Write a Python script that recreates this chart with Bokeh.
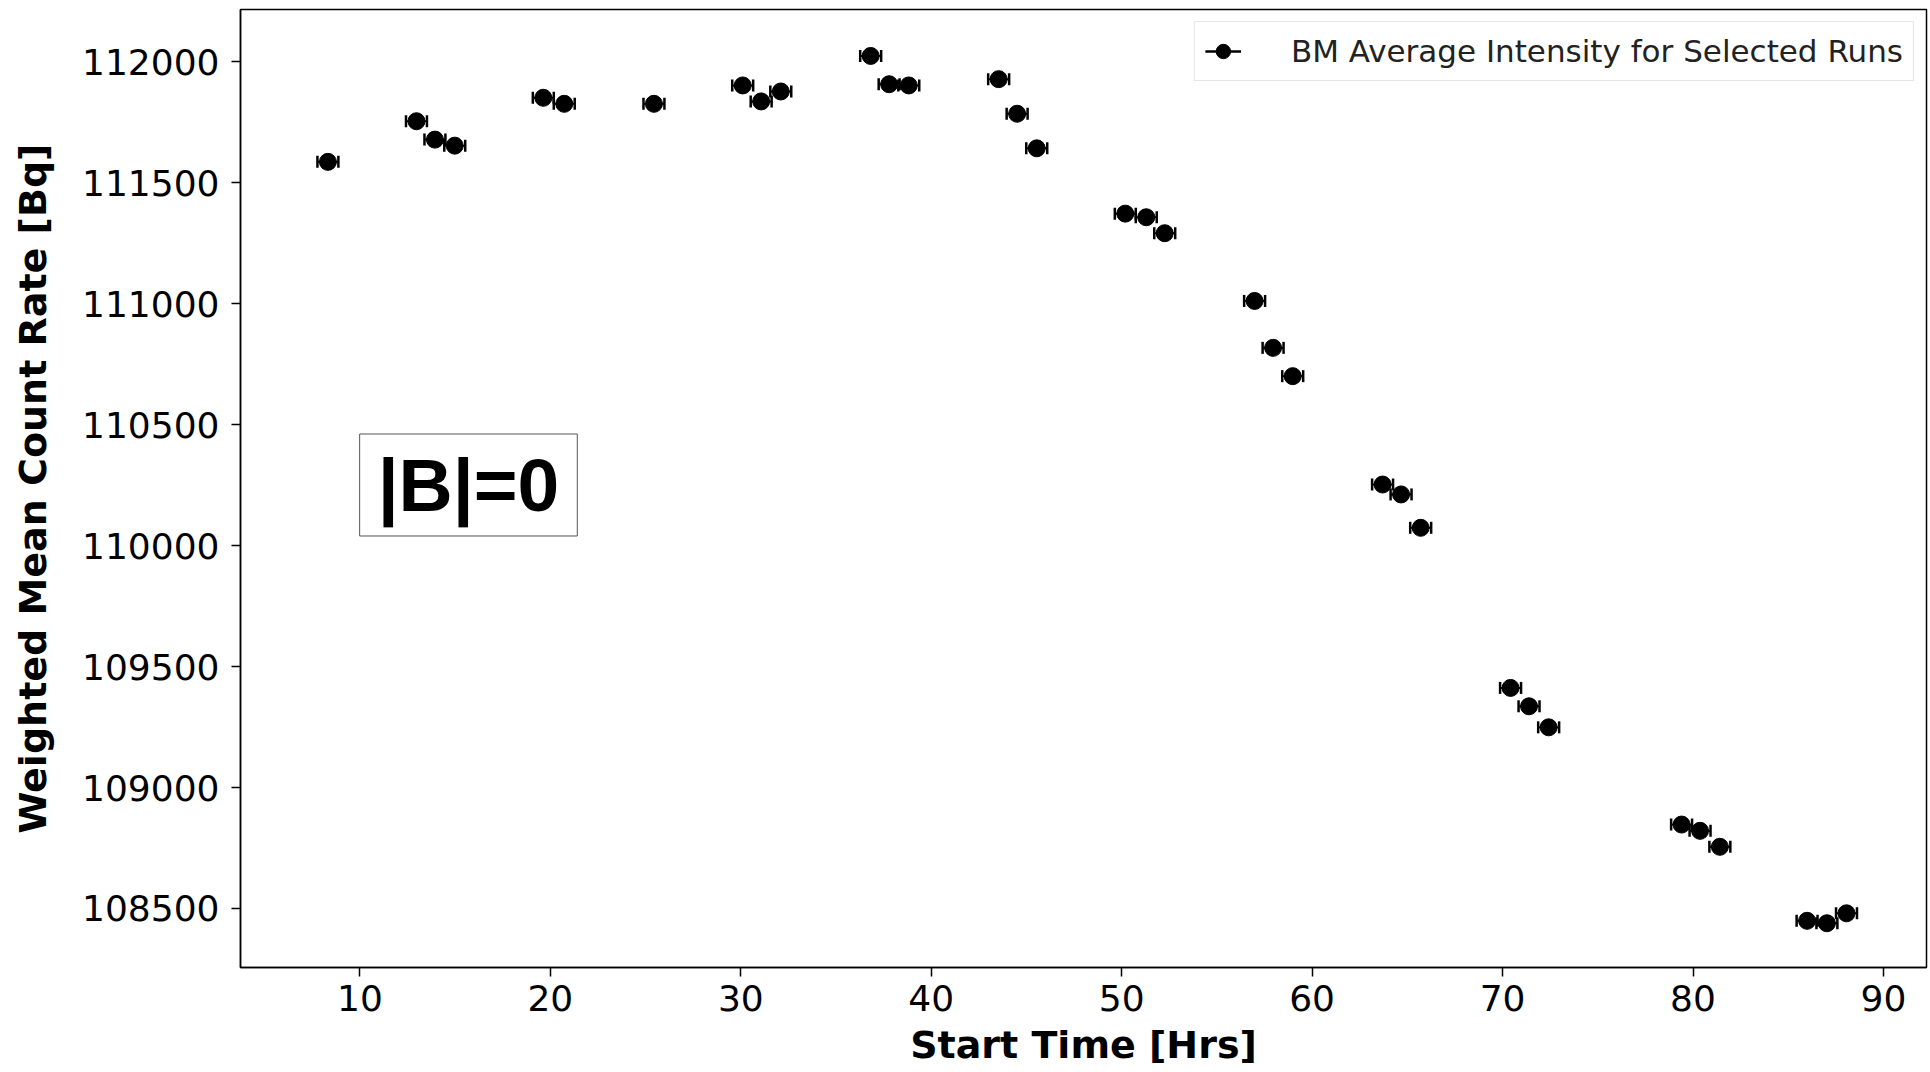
from bokeh.plotting import figure
from bokeh.models import (ColumnDataSource, Range1d, FixedTicker, Whisker, TeeHead,
                          Legend, LegendItem, Label, BasicTickFormatter)
from bokeh.embed import file_html
from bokeh.resources import INLINE

# ---- data ----
start_time = [8.32, 12.97, 13.94, 14.98, 19.63, 20.73, 25.44, 30.10, 31.07, 32.10,
              36.82, 37.79, 38.82, 43.54, 44.51, 45.54, 50.19, 51.29, 52.26, 56.98,
              57.95, 58.98, 63.70, 64.67, 65.70, 70.42, 71.39, 72.42, 79.40, 80.37,
              81.41, 85.99, 87.03, 88.06]
count_rate = [111587, 111755, 111679, 111654, 111852, 111827, 111827, 111903, 111837, 111878,
              112025, 111908, 111903, 111929, 111786, 111643, 111373, 111358, 111292, 111012,
              110818, 110701, 110253, 110212, 110074, 109412, 109336, 109249, 108847, 108821,
              108755, 108449, 108439, 108480]
time_err = [0.55, 0.55, 0.55, 0.55, 0.55, 0.55, 0.55, 0.55, 0.55, 0.55,
            0.55, 0.55, 0.55, 0.55, 0.55, 0.55, 0.55, 0.55, 0.55, 0.55,
            0.55, 0.55, 0.55, 0.55, 0.55, 0.55, 0.55, 0.55, 0.55, 0.55,
            0.55, 0.55, 0.55, 0.55]
x_ticks = [10, 20, 30, 40, 50, 60, 70, 80, 90]
y_ticks = [108500, 109000, 109500, 110000, 110500, 111000, 111500, 112000]
legend_label = "BM Average Intensity for Selected Runs"
annotation_text = "|B|=0"

src = ColumnDataSource(dict(
    x=start_time, y=count_rate,
    lo=[a - e for a, e in zip(start_time, time_err)],
    hi=[a + e for a, e in zip(start_time, time_err)],
))

FONT = "DejaVu Sans"

p = figure(width=1928, height=1069, output_backend="svg", toolbar_location=None,
           x_range=Range1d(3.73, 92.26), y_range=Range1d(108256, 112217),
           min_border_left=240, min_border_right=2, min_border_top=9, min_border_bottom=100)
p.xgrid.visible = False
p.ygrid.visible = False
p.outline_line_color = "black"
p.outline_line_width = 1.5
p.background_fill_color = "white"

for ax in (p.xaxis[0], p.yaxis[0]):
    ax.axis_line_color = "black"
    ax.axis_line_width = 1.5
    ax.major_tick_line_color = "black"
    ax.major_tick_line_width = 1.5
    ax.major_tick_in = 0
    ax.major_tick_out = 9
    ax.minor_tick_line_color = None
    ax.major_label_text_font = FONT
    ax.major_label_text_font_size = "36px"
    ax.major_label_text_color = "black"
    ax.axis_label_text_font = FONT
    ax.axis_label_text_font_size = "38px"
    ax.axis_label_text_font_style = "bold"
    ax.axis_label_text_color = "black"

p.xaxis[0].ticker = FixedTicker(ticks=x_ticks)
p.yaxis[0].ticker = FixedTicker(ticks=y_ticks)
p.yaxis[0].formatter = BasicTickFormatter(use_scientific=False)
p.xaxis[0].axis_label = "Start Time [Hrs]"
p.yaxis[0].axis_label = "Weighted Mean Count Rate [Bq]"
p.xaxis[0].major_label_standoff = 8
p.yaxis[0].major_label_standoff = 12
p.xaxis[0].axis_label_standoff = 9
p.yaxis[0].axis_label_standoff = 24

# horizontal error bars
wh = Whisker(source=src, base="y", lower="lo", upper="hi", dimension="width",
             line_color="black", line_width=2,
             upper_head=TeeHead(size=12, line_color="black", line_width=2.5),
             lower_head=TeeHead(size=12, line_color="black", line_width=2.5))
p.add_layout(wh)

pts = p.scatter("x", "y", source=src, marker="circle", size=17,
                fill_color="black", line_color="black")
# legend-only horizontal bar (error bar icon), no visible data
bar = p.line(x=[float("nan")], y=[float("nan")], line_color="black", line_width=2.5)

legend = Legend(items=[LegendItem(label=legend_label, renderers=[bar, pts])],
                location="top_right", margin=12, padding=10,
                glyph_width=36, glyph_height=38, label_standoff=50,
                label_text_font=FONT, label_text_font_size="31px",
                label_text_color="#222222",
                border_line_color="#cccccc", border_line_width=1.5,
                background_fill_color="white", background_fill_alpha=1.0)
p.add_layout(legend)

lab = Label(x=15.7, y=110251, text=annotation_text, text_align="center",
            text_baseline="middle", text_font="Liberation Sans", text_font_style="bold",
            text_font_size="75px", text_color="black",
            border_line_color="#555555", border_line_width=1,
            background_fill_color="white", padding=(18, 9))
p.add_layout(lab)

open("out.html", "w").write(file_html(p, INLINE))
